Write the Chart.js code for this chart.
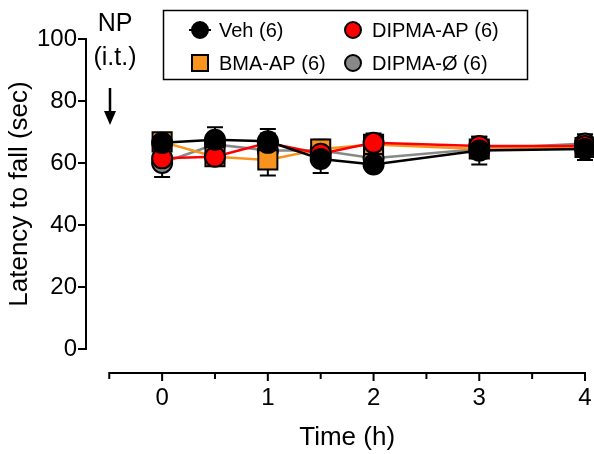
<!DOCTYPE html>
<html>
<head>
<meta charset="utf-8">
<script src="https://cdn.jsdelivr.net/npm/chart.js@4.4.1/dist/chart.umd.min.js"></script>
<style>
  html, body { margin: 0; padding: 0; background: #fff; overflow: hidden; }
  #wrap { width: 594px; height: 454px; position: relative; }
  canvas { display: block; }
</style>
</head>
<body>
<div id="wrap"><canvas id="chart"></canvas></div>
<script>
// Time points (h) and tick labels
const timePoints = [0, 0.5, 1, 1.5, 2, 3, 4];
const xTicks = [0, 1, 2, 3, 4];
const xMinorTicks = [-0.5, 0.5, 1.5, 2.5, 3.5];
const yTicks = [0, 20, 40, 60, 80, 100];

// Latency to fall (sec), mean and SEM per group
const vehMean = [66.5, 67.5, 67.0, 61.3, 59.5, 64.0, 64.5];
const vehSem = [3.0, 4.0, 4.0, 4.5, 2.0, 4.5, 3.5];
const bmaMean = [66.8, 62.0, 61.0, 64.5, 66.0, 64.5, 65.0];
const bmaSem = [2.5, 2.5, 5.0, 3.0, 2.0, 3.0, 3.0];
const dipmaApMean = [61.5, 62.0, 66.5, 63.0, 66.5, 65.5, 65.5];
const dipmaApSem = [3.0, 3.0, 3.0, 3.0, 3.0, 3.0, 3.0];
const dipmaOMean = [60.0, 66.0, 64.0, 64.0, 61.5, 64.5, 66.3];
const dipmaOSem = [4.5, 3.0, 3.0, 3.0, 3.0, 3.0, 3.0];

const groupLabels = ['Veh (6)', 'BMA-AP (6)', 'DIPMA-AP (6)', 'DIPMA-Ø (6)'];
const xTitle = 'Time (h)';

const FONT = 'Liberation Sans, Arial, Helvetica, sans-serif';

const toPoints = (ys) => timePoints.map((t, i) => ({ x: t, y: ys[i] }));

const makeSet = (label, mean, sem, color, style, radius, order) => ({
    label: label,
    data: toPoints(mean),
    sem: sem,
    borderColor: color,
    backgroundColor: color,
    borderWidth: 2.5,
    pointStyle: style,
    pointRadius: radius,
    pointBackgroundColor: color,
    pointBorderColor: '#000',
    pointBorderWidth: 2,
    tension: 0,
    clip: false,
    order: order
});

const datasets = [
    makeSet(groupLabels[0], vehMean, vehSem, '#000000', 'circle', 10, 0),
    makeSet(groupLabels[1], bmaMean, bmaSem, '#f7931e', 'rect', 13.5, 2),
    makeSet(groupLabels[2], dipmaApMean, dipmaApSem, '#fe0000', 'circle', 10, 1),
    makeSet(groupLabels[3], dipmaOMean, dipmaOSem, '#888888', 'circle', 10, 3)
];

// Error bars drawn under the markers
const errorBars = {
    id: 'errorBars',
    beforeDatasetsDraw(chart) {
        const ctx = chart.ctx;
        const xs = chart.scales.x, ys = chart.scales.y;
        ctx.save();
        ctx.strokeStyle = '#000';
        ctx.lineWidth = 2;
        chart.data.datasets.forEach(ds => {
            ds.data.forEach((p, i) => {
                const px = xs.getPixelForValue(p.x);
                const top = ys.getPixelForValue(p.y + ds.sem[i]);
                const bot = ys.getPixelForValue(p.y - ds.sem[i]);
                ctx.beginPath();
                ctx.moveTo(px, top); ctx.lineTo(px, bot);
                ctx.moveTo(px - 8, top); ctx.lineTo(px + 8, top);
                ctx.moveTo(px - 8, bot); ctx.lineTo(px + 8, bot);
                ctx.stroke();
            });
        });
        ctx.restore();
    }
};

// Prism-style offset axes, legend box and the NP annotation
const decorations = {
    id: 'decorations',
    afterDraw(chart) {
        const ctx = chart.ctx;
        const xs = chart.scales.x, ys = chart.scales.y;
        const area = chart.chartArea;
        ctx.save();
        ctx.strokeStyle = '#000';
        ctx.fillStyle = '#000';
        ctx.lineWidth = 2;

        // y axis
        const ax = area.left;
        ctx.beginPath();
        ctx.moveTo(ax, ys.getPixelForValue(100) - 1);
        ctx.lineTo(ax, ys.getPixelForValue(0) + 1);
        yTicks.forEach(v => {
            const py = ys.getPixelForValue(v);
            ctx.moveTo(ax - 8, py); ctx.lineTo(ax, py);
        });
        ctx.stroke();

        // x axis, below the plot
        const ay = area.bottom + 24;
        const x0 = xs.getPixelForValue(-0.5), x1 = xs.getPixelForValue(4);
        ctx.beginPath();
        ctx.moveTo(x0 - 1, ay);
        ctx.lineTo(x1 + 1, ay);
        xTicks.forEach(v => {
            const px = xs.getPixelForValue(v);
            ctx.moveTo(px, ay); ctx.lineTo(px, ay + 8);
        });
        xMinorTicks.forEach(v => {
            const px = xs.getPixelForValue(v);
            ctx.moveTo(px, ay); ctx.lineTo(px, ay + 6);
        });
        ctx.stroke();

        // x title centred under the drawn axis
        ctx.font = '26px ' + FONT;
        ctx.textAlign = 'center';
        ctx.textBaseline = 'middle';
        ctx.fillText(xTitle, (x0 + x1) / 2, 438);

        // NP (i.t.) with arrow
        ctx.font = '25px ' + FONT;
        ctx.fillText('NP', 115, 24);
        ctx.fillText('(i.t.)', 115, 58);
        ctx.lineWidth = 2.5;
        ctx.beginPath();
        ctx.moveTo(110, 88); ctx.lineTo(110, 114);
        ctx.stroke();
        ctx.beginPath();
        ctx.moveTo(104, 111); ctx.lineTo(116, 111); ctx.lineTo(110, 125);
        ctx.closePath();
        ctx.fill();

        // legend box
        ctx.lineWidth = 1.5;
        ctx.strokeRect(163.5, 10.5, 364, 69);
        const slots = [[200, 30], [200, 63], [353, 30], [353, 63]];
        ctx.font = '20px ' + FONT;
        ctx.textAlign = 'left';
        chart.data.datasets.forEach((ds, i) => {
            const [mx, my] = slots[i];
            ctx.lineWidth = 2;
            ctx.strokeStyle = '#000';
            ctx.fillStyle = ds.pointBackgroundColor;
            if (i === 0) {
                ctx.beginPath();
                ctx.moveTo(mx - 11, my); ctx.lineTo(mx + 11, my);
                ctx.stroke();
            }
            ctx.beginPath();
            if (ds.pointStyle === 'rect') {
                ctx.rect(mx - 8, my - 8, 16, 16);
            } else {
                ctx.arc(mx, my, 8, 0, Math.PI * 2);
            }
            ctx.fill();
            ctx.stroke();
            ctx.fillStyle = '#000';
            ctx.fillText(ds.label, mx + 19, my + 1);
        });
        ctx.restore();
    }
};

new Chart(document.getElementById('chart'), {
    type: 'line',
    data: { datasets: datasets },
    options: {
        responsive: true,
        maintainAspectRatio: false,
        animation: false,
        layout: { autoPadding: false, padding: { top: 39, right: 9, left: 0, bottom: 0 } },
        plugins: { legend: { display: false }, tooltip: { enabled: false } },
        scales: {
            x: {
                type: 'linear',
                min: -0.72,
                max: 4,
                afterBuildTicks: s => { s.ticks = xTicks.map(v => ({ value: v })); },
                afterFit: s => { s.height = 105; s.paddingLeft = 0; s.paddingRight = 0; },
                grid: { display: false, drawTicks: false },
                border: { display: false },
                ticks: { color: '#000', padding: 35, font: { family: FONT, size: 24 } },
                title: { display: false }
            },
            y: {
                min: 0,
                max: 100,
                afterBuildTicks: s => { s.ticks = yTicks.map(v => ({ value: v })); },
                afterFit: s => { s.width = 86; },
                grid: { display: false, drawTicks: false },
                border: { display: false },
                ticks: { color: '#000', padding: 9, font: { family: FONT, size: 24 } },
                title: {
                    display: true, text: 'Latency to fall (sec)', color: '#000',
                    font: { family: FONT, size: 26 }, padding: { top: 4, bottom: 0 }
                }
            }
        }
    },
    plugins: [errorBars, decorations]
});
</script>
</body>
</html>
